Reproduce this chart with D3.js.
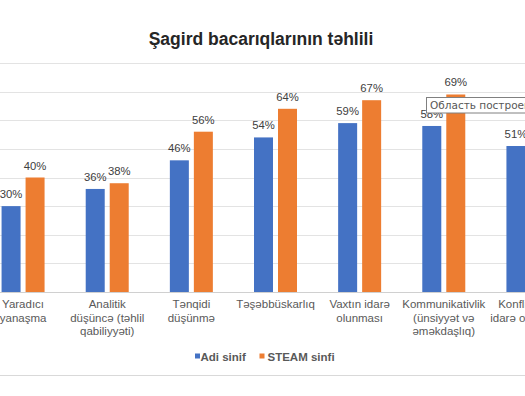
<!DOCTYPE html>
<html>
<head>
<meta charset="utf-8">
<script src="https://cdn.jsdelivr.net/npm/d3@7/dist/d3.min.js"></script>
<style>
  html, body { margin: 0; padding: 0; background: #fff; overflow: hidden; }
  svg { display: block; font-family: "Liberation Sans", Arial, sans-serif; }
</style>
</head>
<body>
<svg id="chart" width="525" height="396"></svg>
<script>
const title = "Şagird bacarıqlarının təhlili";
const categories = [
  "Yaradıcı\nyanaşma",
  "Analitik\ndüşüncə (təhlil\nqabiliyyəti)",
  "Tənqidi\ndüşünmə",
  "Təşəbbüskarlıq",
  "Vaxtın idarə\nolunması",
  "Kommunikativlik\n(ünsiyyət və\nəməkdaşlıq)",
  "Konfliktlərin\nidarə olunması"
];
const seriesNames = ["Adi sinif", "STEAM sinfi"];
const adiSinif = [30, 36, 46, 54, 59, 58, 51];
const steamSinfi = [40, 38, 56, 64, 67, 69, 60];
const yTicks = [0, 10, 20, 30, 40, 50, 60, 70, 80];
const colors = ["#4472C4", "#ED7D31"];
const tooltipText = "Область построения";

const svg = d3.select("#chart");
const W = 525, H = 396;

const x0 = d3.scaleBand().domain(categories).range([-19, 570]).paddingInner(0).paddingOuter(0);
const x1 = d3.scaleBand().domain(seriesNames).range([0, 43]).paddingInner(2 - 43 / 24);
const y = d3.scaleLinear().domain([0, 80]).range([292, 63]);

// Title
svg.append("text")
  .attr("x", 261).attr("y", 44.5)
  .attr("text-anchor", "middle")
  .attr("font-size", 17.5).attr("font-weight", "bold")
  .attr("fill", "#262626")
  .text(title);

// Gridlines
svg.append("g").selectAll("line").data(yTicks).join("line")
  .attr("x1", 0).attr("x2", W)
  .attr("y1", d => Math.round(y(d)) + 0.5).attr("y2", d => Math.round(y(d)) + 0.5)
  .attr("stroke", d => d === 0 ? "#d0d0d0" : "#e3e3e3").attr("stroke-width", 1);

// Bars
const data = categories.map((c, i) => ({ cat: c, vals: [adiSinif[i], steamSinfi[i]] }));
const groups = svg.append("g").selectAll("g").data(data).join("g")
  .attr("transform", d => `translate(${x0(d.cat) + x0.bandwidth() / 2 - 21.5},0)`);

groups.selectAll("rect").data(d => d.vals.map((v, j) => ({ s: seriesNames[j], v, j })))
  .join("rect")
  .attr("x", d => x1(d.s)).attr("width", x1.bandwidth())
  .attr("y", d => y(d.v)).attr("height", d => y(0) - y(d.v))
  .attr("fill", d => colors[d.j]);

groups.selectAll("text.lbl").data(d => d.vals.map((v, j) => ({ s: seriesNames[j], v, j })))
  .join("text").attr("class", "lbl")
  .attr("x", d => x1(d.s) + x1.bandwidth() / 2)
  .attr("y", d => y(d.v) - 8)
  .attr("text-anchor", "middle")
  .attr("font-size", 11.3).attr("fill", "#404040")
  .text(d => d.v + "%");

// Category labels
const catG = svg.append("g");
categories.forEach(c => {
  const cx = x0(c) + x0.bandwidth() / 2;
  const t = catG.append("text").attr("text-anchor", "middle")
    .attr("font-size", 11.5).attr("fill", "#595959");
  c.split("\n").forEach((line, k) => {
    t.append("tspan").attr("x", cx).attr("y", 308 + k * 13.6).text(line);
  });
});

// Legend
const legend = svg.append("g");
const legItems = [{ name: seriesNames[0], sx: 195, tx: 200.5 }, { name: seriesNames[1], sx: 259.5, tx: 267.5 }];
legItems.forEach((d, i) => {
  legend.append("rect").attr("x", d.sx).attr("y", 353.5).attr("width", 5).attr("height", 5).attr("fill", colors[i]);
  legend.append("text").attr("x", d.tx).attr("y", 360.5)
    .attr("font-size", 11.5).attr("font-weight", "bold").attr("fill", "#595959")
    .text(d.name);
});

// Bottom border
svg.append("line").attr("x1", 0).attr("x2", W).attr("y1", 375.5).attr("y2", 375.5)
  .attr("stroke", "#d9d9d9");

// Tooltip overlay
const tip = svg.append("g");
tip.append("rect").attr("x", 426.5).attr("y", 97.5).attr("width", 130).attr("height", 15.5)
  .attr("fill", "#ffffff").attr("stroke", "#808080").attr("stroke-width", 1);
tip.append("text").attr("x", 430).attr("y", 109)
  .attr("fill", "#575757")
  .attr("font-family", "'DejaVu Sans', 'Liberation Sans', sans-serif")
  .attr("font-size", 10.5)
  .text(tooltipText);
</script>
</body>
</html>
